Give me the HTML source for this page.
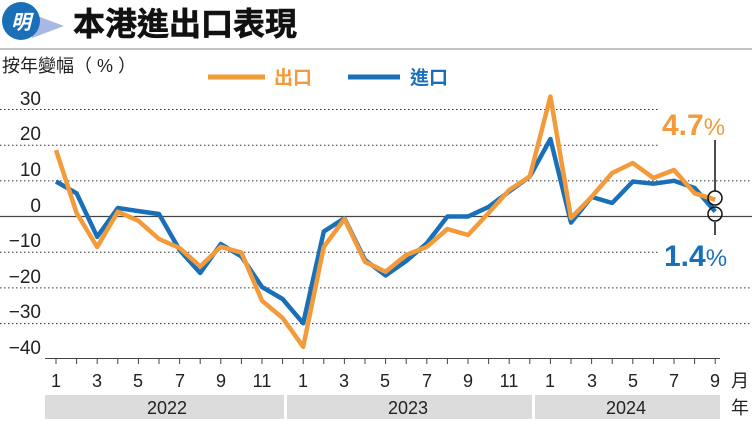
<!DOCTYPE html><html><head><meta charset="utf-8"><style>body{margin:0;background:#fff}svg{display:block}text{font-family:"Liberation Sans","Noto Sans CJK TC",sans-serif}</style></head><body>
<svg width="752" height="429" viewBox="0 0 752 429">
<polygon points="32,14 64,26 32,38" fill="#a9b8e3"/>
<circle cx="21" cy="21" r="19" fill="#1b6fb8"/>
<text x="21" y="29" font-size="20" font-weight="bold" font-style="italic" fill="#fff" text-anchor="middle">明</text>
<text x="73" y="35" font-size="32" font-weight="bold" fill="#111" stroke="#111" stroke-width="0.6">本港進出口表現</text>
<line x1="0" y1="49" x2="752" y2="49" stroke="#888" stroke-width="1"/>
<text x="2" y="72" font-size="18" fill="#222">按年變幅（ % ）</text>
<line x1="208" y1="77" x2="265" y2="77" stroke="#f39a3a" stroke-width="5"/>
<text x="274" y="84" font-size="19" font-weight="bold" fill="#f39a3a">出口</text>
<line x1="348" y1="77" x2="400" y2="77" stroke="#1a70b8" stroke-width="5"/>
<text x="410" y="84" font-size="19" font-weight="bold" fill="#1a70b8">進口</text>
<g stroke="#333" stroke-width="1" stroke-dasharray="1.5,2.5">
<line x1="0" y1="109.5" x2="660" y2="109.5"/><line x1="0" y1="145.2" x2="660" y2="145.2"/><line x1="0" y1="180.9" x2="752" y2="180.9"/>
<line x1="0" y1="252.2" x2="660" y2="252.2"/><line x1="0" y1="287.9" x2="752" y2="287.9"/><line x1="0" y1="323.6" x2="752" y2="323.6"/>
</g>
<line x1="0" y1="216.5" x2="752" y2="216.5" stroke="#444" stroke-width="1.3"/>
<g font-size="19" fill="#222" text-anchor="end">
<text x="41" y="105">30</text><text x="41" y="140">20</text><text x="41" y="176">10</text><text x="41" y="212">0</text>
<text x="41" y="247">−10</text><text x="41" y="283">−20</text><text x="41" y="318">−30</text><text x="41" y="354">−40</text>
</g>
<line x1="45" y1="358.5" x2="720" y2="358.5" stroke="#444" stroke-width="1"/>
<g id="ticks" stroke="#444" stroke-width="1"></g>
<polyline fill="none" stroke="#1a70b8" stroke-width="4.5" stroke-linejoin="round" points="56,181.5 76.6,193.3 97.2,236.8 117.8,208 138.4,211.1 159,214 179.6,250 200.2,273 220.8,244 241.4,256.5 262,287 282.6,299 303.2,323.3 323.8,231.5 344.4,218.3 365,260 385.6,275.4 406.2,261 426.8,243.3 447.4,216.5 468,216.5 488.6,206.9 509.2,191.5 529.8,176.5 550.4,139 571,222.6 591.6,196.9 612.2,203 632.8,181.5 653.4,183.7 674,180.8 694.6,188 715.2,211.5"/>
<polyline fill="none" stroke="#f39a3a" stroke-width="4.5" stroke-linejoin="round" points="56,150 76.6,213 97.2,247 117.8,211.7 138.4,220.8 159,239 179.6,248 200.2,266.5 220.8,246.8 241.4,252.6 262,300.7 282.6,318 303.2,346.8 323.8,246.8 344.4,219 365,261.8 385.6,271.8 406.2,255 426.8,246.8 447.4,229 468,235 488.6,213 509.2,190 529.8,176.5 550.4,96.5 571,218 591.6,196.9 612.2,173 632.8,163 653.4,178 674,170 694.6,193.3 715.2,199.7"/>
<line x1="715" y1="140" x2="715" y2="191" stroke="#111" stroke-width="1.5"/>
<line x1="715" y1="222" x2="715" y2="235" stroke="#111" stroke-width="1.5"/>
<circle cx="715" cy="198" r="7" fill="none" stroke="#111" stroke-width="1.5"/>
<circle cx="715" cy="214" r="7" fill="none" stroke="#111" stroke-width="1.5"/>
<text x="662" y="135" font-size="30" font-weight="bold" fill="#f39a3a">4.7<tspan font-size="24" font-weight="normal">%</tspan></text>
<text x="664" y="266" font-size="30" font-weight="bold" fill="#1a70b8">1.4<tspan font-size="24" font-weight="normal">%</tspan></text>
<g font-size="18" fill="#222" text-anchor="middle">
<text x="56" y="387">1</text><text x="97" y="387">3</text><text x="138" y="387">5</text><text x="180" y="387">7</text><text x="221" y="387">9</text><text x="262" y="387">11</text>
<text x="303" y="387">1</text><text x="344" y="387">3</text><text x="385" y="387">5</text><text x="427" y="387">7</text><text x="468" y="387">9</text><text x="509" y="387">11</text>
<text x="550" y="387">1</text><text x="592" y="387">3</text><text x="633" y="387">5</text><text x="674" y="387">7</text><text x="715" y="387">9</text>
<text x="740" y="387">月</text><text x="740" y="414">年</text>
</g>
<rect x="45" y="395" width="239" height="24" fill="#dcdcdc"/>
<rect x="287" y="395" width="245" height="24" fill="#dcdcdc"/>
<rect x="535" y="395" width="185" height="24" fill="#dcdcdc"/>
<g font-size="18" fill="#222" text-anchor="middle">
<text x="167" y="414">2022</text><text x="408" y="414">2023</text><text x="626" y="414">2024</text>
</g>
</svg>
<script>
var g=document.getElementById('ticks');for(var i=0;i<33;i++){var x=56+i*20.6;var l=document.createElementNS('http://www.w3.org/2000/svg','line');l.setAttribute('x1',x);l.setAttribute('x2',x);l.setAttribute('y1',358);l.setAttribute('y2',364);g.appendChild(l);}
</script>
</body></html>
